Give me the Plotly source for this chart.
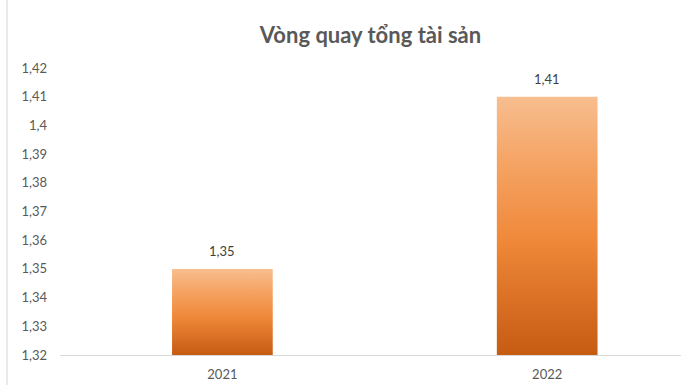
import plotly.graph_objects as go

# Chart data
years = ["2021", "2022"]
turnover = [1.35, 1.41]
y_ticks = [1.32, 1.33, 1.34, 1.35, 1.36, 1.37, 1.38, 1.39, 1.40, 1.41, 1.42]

AXIS_MIN = 1.32
BAR_WIDTH = 0.31
TEXT_GREY = "#595959"
FONT = "Lato"

# vertical gradient: dark orange at the base, pale peach at the top
bar_scale = [[0.0, "#C65B12"], [0.45, "#F0893A"], [0.75, "#F5A465"], [1.0, "#F7BE8F"]]


def vn(v, fmt):
    return format(v, fmt).replace(".", ",")


fig = go.Figure()

for i, (year, val) in enumerate(zip(years, turnover)):
    x0, x1 = i - BAR_WIDTH / 2, i + BAR_WIDTH / 2
    fig.add_trace(go.Scatter(
        x=[x0, x1, x1, x0, x0],
        y=[AXIS_MIN, AXIS_MIN, val, val, AXIS_MIN],
        mode="lines",
        line=dict(width=0),
        fill="toself",
        fillgradient=dict(type="vertical", colorscale=bar_scale),
        hoverinfo="skip",
        showlegend=False,
        name=year,
    ))
    fig.add_annotation(
        x=i, y=val, text=vn(val, ".2f"),
        showarrow=False, yanchor="bottom", yshift=8,
        font=dict(family=FONT, size=13, color="#404040"),
    )

fig.update_layout(
    width=681, height=385,
    margin=dict(l=60, r=0, t=68, b=30),
    paper_bgcolor="white", plot_bgcolor="white",
    font=dict(family=FONT, size=13, color=TEXT_GREY),
    title=dict(
        text="<b>Vòng quay tổng tài sản</b>",
        x=0.5, xanchor="center", xref="paper",
        y=1 - 35 / 385, yref="container", yanchor="middle",
        font=dict(family=FONT, size=22, color=TEXT_GREY),
    ),
    xaxis=dict(
        range=[-0.5, 1.412],
        tickvals=list(range(len(years))), ticktext=years,
        showgrid=False, zeroline=False,
        showline=True, linecolor="#D9D9D9", linewidth=1,
        ticks="", ticklabelstandoff=7,
        fixedrange=True,
    ),
    yaxis=dict(
        range=[AXIS_MIN, 1.42],
        tickvals=y_ticks, ticktext=[vn(v, "g") for v in y_ticks],
        showgrid=False, zeroline=False, showline=False,
        ticks="", ticklabelstandoff=12,
        fixedrange=True,
    ),
    shapes=[dict(
        type="line", xref="paper", yref="paper",
        x0=-53 / 621, x1=-53 / 621, y0=-30 / 287, y1=1 + 68 / 287,
        line=dict(color="#E3E3E3", width=1.5),
    )],
)

fig.write_html("out.html")
